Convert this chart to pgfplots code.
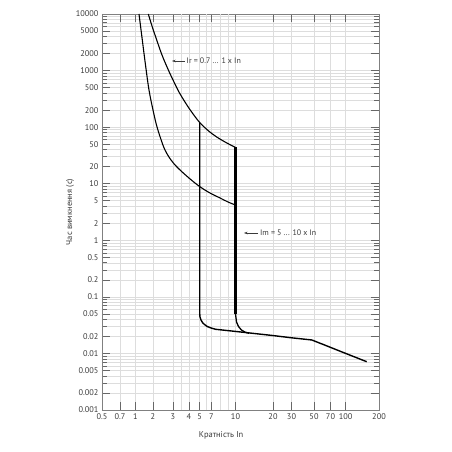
\documentclass[border=0pt]{standalone}
\usepackage{fontspec}
\setmainfont{PT Sans}
\usepackage{pgfplots}
\pgfplotsset{compat=1.18}
\usetikzlibrary{arrows.meta}

% piecewise-logarithmic x scale of the original chart (tick value -> position in bp)
\def\segmap#1#2#3#4{\pgfmathparse{#2+(#4-#2)*(ln(\xval)-ln(#1))/(ln(#3)-ln(#1))}}
\def\xmapcode#1{%
  \begingroup
  \pgfmathfloatparsenumber{#1}%
  \pgfmathfloattofixed{\pgfmathresult}%
  \let\xval\pgfmathresult
  \pgfkeys{/pgf/fpu=false}%
  \ifdim\xval pt<0.05pt \def\pgfmathresult{0}\else
  \ifdim\xval pt<0.7pt \segmap{0.5}{0}{0.7}{18}\else
  \ifdim\xval pt<1pt \segmap{0.7}{18}{1}{33.5}\else
  \ifdim\xval pt<2pt \segmap{1}{33.5}{2}{51}\else
  \ifdim\xval pt<3pt \segmap{2}{51}{3}{71}\else
  \ifdim\xval pt<4pt \segmap{3}{71}{4}{87}\else
  \ifdim\xval pt<5pt \segmap{4}{87}{5}{97.7}\else
  \ifdim\xval pt<7pt \segmap{5}{97.7}{7}{109.5}\else
  \ifdim\xval pt<10pt \segmap{7}{109.5}{10}{133.5}\else
  \ifdim\xval pt<20pt \segmap{10}{133.5}{20}{171}\else
  \ifdim\xval pt<30pt \segmap{20}{171}{30}{189.5}\else
  \ifdim\xval pt<50pt \segmap{30}{189.5}{50}{212}\else
  \ifdim\xval pt<70pt \segmap{50}{212}{70}{228.5}\else
  \ifdim\xval pt<100pt \segmap{70}{228.5}{100}{243.7}\else
  \segmap{100}{243.7}{200}{277}%
  \fi\fi\fi\fi\fi\fi\fi\fi\fi\fi\fi\fi\fi\fi
  \pgfmathfloatparsenumber{\pgfmathresult}%
  \xdef\xmapresult{\pgfmathresult}%
  \endgroup
  \let\pgfmathresult\xmapresult}

\definecolor{txt}{HTML}{3A3A3A}
\definecolor{gridc}{HTML}{DDDDDD}
\definecolor{axc}{HTML}{808080}

\begin{document}
\begin{tikzpicture}
\useasboundingbox (-102bp,-42bp) rectangle (350bp,410bp);
\begin{axis}[
  at={(0,0)}, anchor=south west,
  scale only axis, width=277bp, height=396bp,
  x coord trafo/.code={\xmapcode{#1}},
  xmin=0.5, xmax=200,
  ymode=log, ymin=0.001, ymax=10000,
  xtick={0.5,0.7,1,2,3,4,5,7,10,20,30,50,70,100,200},
  xticklabels={0.5,0.7,1,2,3,4,5,7,10,20,30,50,70,100,200},
  extra x ticks={3.5,6,8,9},
  extra x tick labels={},
  extra x tick style={major tick length=0pt, grid=major},
  ytick={0.001,0.002,0.005,0.01,0.02,0.05,0.1,0.2,0.5,1,2,5,10,20,50,100,200,500,1000,2000,5000,10000},
  yticklabels={0.001,0.002,0.005,0.01,0.02,0.05,0.1,0.2,0.5,1,2,5,10,20,50,100,200,500,1000,2000,5000,10000},
  minor ytick={0.003,0.004,0.006,0.007,0.008,0.009,0.03,0.04,0.06,0.07,0.08,0.09,0.3,0.4,0.6,0.7,0.8,0.9,3,4,6,7,8,9,30,40,60,70,80,90,300,400,600,700,800,900,3000,4000,6000,7000,8000,9000},
  grid=both,
  major grid style={gridc, line width=0.5pt},
  minor grid style={gridc, line width=0.5pt},
  tick align=inside,
  xtick pos=both, ytick pos=both,
  major tick length=8bp, minor tick length=5bp,
  axis line style={axc, line width=0.8pt},
  tick style={axc!80!black, line width=0.6pt},
  ticklabel style={font=\fontsize{8.3}{9}\selectfont, text=txt},
  xlabel={Кратність In}, ylabel={Час вимкнення (с)},
  label style={font=\fontsize{8.5}{10}\selectfont, text=txt},
  xlabel style={at={(axis description cs:0.43,-0.063)}, anchor=center},
  ylabel style={at={(axis description cs:-0.115,0.5)}, anchor=center},
]
% lower long-time curve (Ir = 0.7 x In)
\addplot[black, line width=1.1pt, smooth, tension=0.6] coordinates {
  (1.149,10000) (1.309,3475) (1.486,1256) (1.707,454) (2.0,201) (2.147,109) (2.328,64.3) (2.55,39.5)
  (2.88,26.3) (3.28,18.97) (4,12.6) (5,8.9) (6.71,6.85) (7.94,5.6) (8.95,4.75) (10,4.2)};
% upper long-time curve (Ir = 1 x In)
\addplot[black, line width=1.1pt, smooth, tension=0.6] coordinates {
  (1.66,10000) (1.922,6138) (2.156,3475) (2.40,1885) (2.73,1024) (3.054,628) (3.34,418)
  (3.72,278.6) (4.23,185) (5,120.8) (6.34,87.3) (7.56,67.0) (8.68,53.5) (10,43.7)};
% Im = 5 x In and the instantaneous part
\addplot[black, line width=1.4pt, line join=round] coordinates {
  (5,120.8) (5,0.0518) (5.04,0.0441) (5.19,0.0390) (5.41,0.0352) (5.73,0.0325) (6.21,0.0299)
  (6.90,0.0282) (7.45,0.0267) (10,0.0245) (20,0.0207) (30,0.0189) (47.5,0.0173)
  (50,0.0167) (70,0.0128) (100,0.0100) (154.8,0.00714)};
% Im = 10 x In
\addplot[black, line width=2.4pt] coordinates {(10,43.7) (10,0.0498)};
\addplot[black, line width=1.3pt, line join=round] coordinates {
  (10,0.055) (10,0.0498) (10.19,0.0359) (10.57,0.0299) (11.17,0.0259) (11.92,0.0238) (12.83,0.02265)};
% annotations
\draw[txt, line width=0.5pt, -{Stealth[length=3.5pt,width=2.5pt]}] (rel axis cs:0.2996,0.8813) -- (rel axis cs:0.2527,0.8813);
\node[anchor=west, inner sep=0pt, text=txt, font=\fontsize{8}{9}\selectfont] at (rel axis cs:0.305,0.8813) {Ir = 0.7 ... 1 x In};
\draw[txt, line width=0.5pt, -{Stealth[length=3.5pt,width=2.5pt]}] (rel axis cs:0.5632,0.447) -- (rel axis cs:0.5126,0.447);
\node[anchor=west, inner sep=0pt, text=txt, font=\fontsize{8}{9}\selectfont] at (rel axis cs:0.570,0.447) {Im = 5 ... 10 x In};
\end{axis}
\end{tikzpicture}
\end{document}
